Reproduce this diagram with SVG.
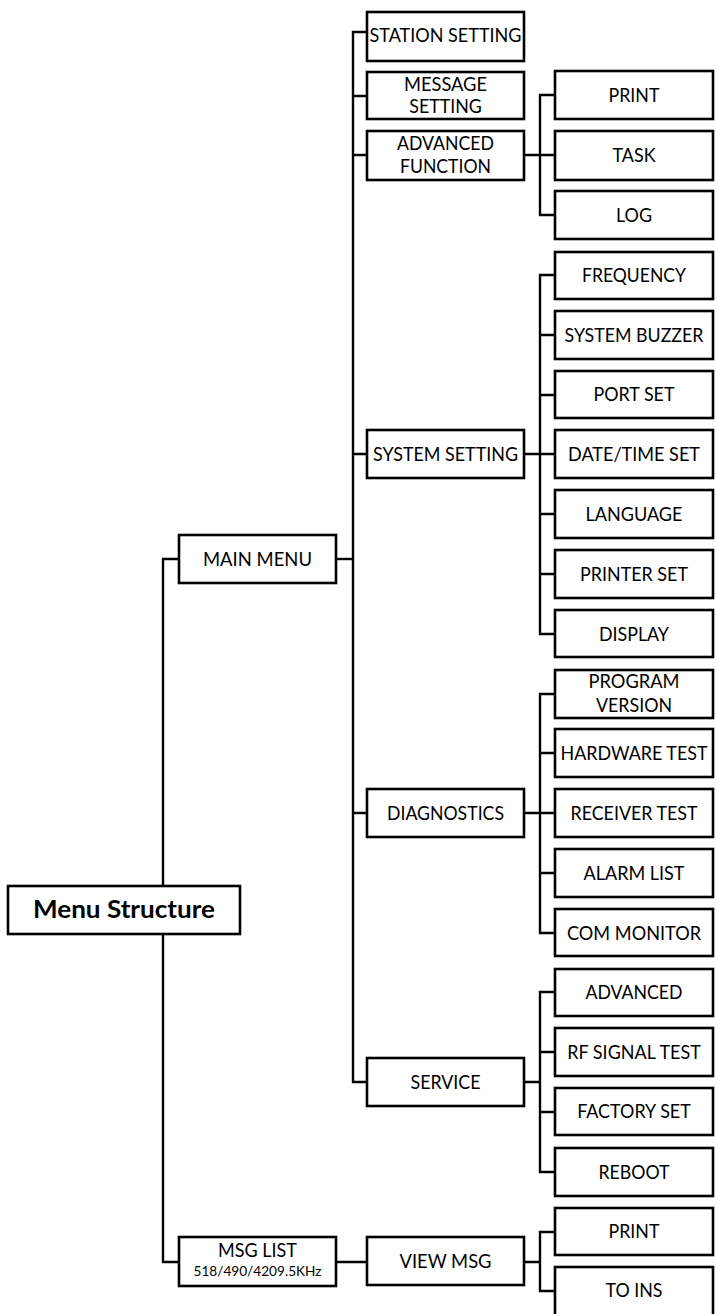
<svg xmlns="http://www.w3.org/2000/svg" width="717" height="1314" viewBox="0 0 717 1314">
  <style>
    .box { fill: #fff; stroke: #000; stroke-width: 2.6; }
    .wire { fill: none; stroke: #000; stroke-width: 2.4; stroke-linejoin: miter; }
    .lbl { font-family: Lato, "Liberation Sans", sans-serif; font-size: 19px; text-anchor: middle; fill: #000; }
    .title { font-family: Lato, "Liberation Sans", sans-serif; font-size: 25px; font-weight: bold; text-anchor: middle; fill: #000; }
    .small { font-family: Lato, "Liberation Sans", sans-serif; font-size: 13px; text-anchor: middle; fill: #000; }
  </style>
  <rect width="717" height="1314" fill="#fff"/>

  <!-- connectors -->
  <g id="connectors">
    <!-- root to main menu and msg list -->
    <path class="wire" d="M179 559 H163 V1262 H179"/>
    <!-- main menu trunk -->
    <path class="wire" d="M336 559 H353"/>
    <path class="wire" d="M367 32 H353 V1082 H367"/>
    <path class="wire" d="M353 96 H367 M353 155 H367 M353 454 H367 M353 813 H367"/>
    <!-- advanced function -->
    <path class="wire" d="M524 155 H555 M555 95 H540 V215 H555"/>
    <!-- system setting -->
    <path class="wire" d="M524 454 H555 M555 275 H540 V634 H555 M540 335 H555 M540 395 H555 M540 514 H555 M540 574 H555"/>
    <!-- diagnostics -->
    <path class="wire" d="M524 813 H555 M555 694 H540 V933 H555 M540 753 H555 M540 873 H555"/>
    <!-- service -->
    <path class="wire" d="M524 1082 H540 M555 992 H540 V1172 H555 M540 1052 H555 M540 1112 H555"/>
    <!-- msg list / view msg -->
    <path class="wire" d="M336 1262 H367 M524 1262 H540 M555 1232 H540 V1291 H555"/>
  </g>

  <!-- root -->
  <g id="menu-structure">
    <rect class="box" x="8" y="886" width="232" height="48"/>
    <text class="title" x="124" y="918" textLength="182" lengthAdjust="spacingAndGlyphs">Menu Structure</text>
  </g>

  <!-- level 1 -->
  <g id="main-menu">
    <rect class="box" x="179" y="535" width="157" height="48"/>
    <text class="lbl" x="257.5" y="566" textLength="109" lengthAdjust="spacingAndGlyphs">MAIN MENU</text>
  </g>
  <g id="msg-list">
    <rect class="box" x="179" y="1237" width="157" height="49"/>
    <text class="lbl" x="257.5" y="1257" textLength="79" lengthAdjust="spacingAndGlyphs">MSG LIST</text>
    <text class="small" x="257.5" y="1276" textLength="128" lengthAdjust="spacingAndGlyphs">518/490/4209.5KHz</text>
  </g>

  <!-- level 2 -->
  <g id="station-setting">
    <rect class="box" x="367" y="12" width="157" height="49"/>
    <text class="lbl" x="445.5" y="42" textLength="152" lengthAdjust="spacingAndGlyphs">STATION SETTING</text>
  </g>
  <g id="message-setting">
    <rect class="box" x="367" y="72" width="157" height="47"/>
    <text class="lbl" x="445.5" y="91" textLength="83" lengthAdjust="spacingAndGlyphs">MESSAGE</text>
    <text class="lbl" x="445.5" y="113" textLength="72.5" lengthAdjust="spacingAndGlyphs">SETTING</text>
  </g>
  <g id="advanced-function">
    <rect class="box" x="367" y="131" width="157" height="49"/>
    <text class="lbl" x="445.5" y="150" textLength="97" lengthAdjust="spacingAndGlyphs">ADVANCED</text>
    <text class="lbl" x="445.5" y="173" textLength="91" lengthAdjust="spacingAndGlyphs">FUNCTION</text>
  </g>
  <g id="system-setting">
    <rect class="box" x="367" y="430" width="157" height="48"/>
    <text class="lbl" x="445.5" y="461" textLength="145" lengthAdjust="spacingAndGlyphs">SYSTEM SETTING</text>
  </g>
  <g id="diagnostics">
    <rect class="box" x="367" y="789" width="157" height="48"/>
    <text class="lbl" x="445.5" y="820" textLength="117" lengthAdjust="spacingAndGlyphs">DIAGNOSTICS</text>
  </g>
  <g id="service">
    <rect class="box" x="367" y="1058" width="157" height="48"/>
    <text class="lbl" x="445.5" y="1089" textLength="70" lengthAdjust="spacingAndGlyphs">SERVICE</text>
  </g>
  <g id="view-msg">
    <rect class="box" x="367" y="1237" width="157" height="48"/>
    <text class="lbl" x="445.5" y="1268" textLength="92" lengthAdjust="spacingAndGlyphs">VIEW MSG</text>
  </g>

  <!-- level 3: advanced function -->
  <g id="af-print">
    <rect class="box" x="555" y="71" width="158" height="48"/>
    <text class="lbl" x="634" y="102" textLength="51" lengthAdjust="spacingAndGlyphs">PRINT</text>
  </g>
  <g id="af-task">
    <rect class="box" x="555" y="131" width="158" height="49"/>
    <text class="lbl" x="634" y="162" textLength="43" lengthAdjust="spacingAndGlyphs">TASK</text>
  </g>
  <g id="af-log">
    <rect class="box" x="555" y="191" width="158" height="48"/>
    <text class="lbl" x="634" y="222" textLength="36" lengthAdjust="spacingAndGlyphs">LOG</text>
  </g>

  <!-- level 3: system setting -->
  <g id="ss-frequency">
    <rect class="box" x="555" y="252" width="158" height="47"/>
    <text class="lbl" x="634" y="282" textLength="104" lengthAdjust="spacingAndGlyphs">FREQUENCY</text>
  </g>
  <g id="ss-buzzer">
    <rect class="box" x="555" y="311" width="158" height="48"/>
    <text class="lbl" x="634" y="342" textLength="139" lengthAdjust="spacingAndGlyphs">SYSTEM BUZZER</text>
  </g>
  <g id="ss-port">
    <rect class="box" x="555" y="371" width="158" height="47"/>
    <text class="lbl" x="634" y="401" textLength="81" lengthAdjust="spacingAndGlyphs">PORT SET</text>
  </g>
  <g id="ss-datetime">
    <rect class="box" x="555" y="430" width="158" height="48"/>
    <text class="lbl" x="634" y="461" textLength="132" lengthAdjust="spacingAndGlyphs">DATE/TIME SET</text>
  </g>
  <g id="ss-language">
    <rect class="box" x="555" y="490" width="158" height="48"/>
    <text class="lbl" x="634" y="521" textLength="97" lengthAdjust="spacingAndGlyphs">LANGUAGE</text>
  </g>
  <g id="ss-printer">
    <rect class="box" x="555" y="550" width="158" height="48"/>
    <text class="lbl" x="634" y="581" textLength="108" lengthAdjust="spacingAndGlyphs">PRINTER SET</text>
  </g>
  <g id="ss-display">
    <rect class="box" x="555" y="610" width="158" height="47"/>
    <text class="lbl" x="634" y="641" textLength="70" lengthAdjust="spacingAndGlyphs">DISPLAY</text>
  </g>

  <!-- level 3: diagnostics -->
  <g id="dg-version">
    <rect class="box" x="555" y="670" width="158" height="48"/>
    <text class="lbl" x="634" y="688" textLength="91" lengthAdjust="spacingAndGlyphs">PROGRAM</text>
    <text class="lbl" x="634" y="712" textLength="76" lengthAdjust="spacingAndGlyphs">VERSION</text>
  </g>
  <g id="dg-hardware">
    <rect class="box" x="555" y="729" width="158" height="48"/>
    <text class="lbl" x="634" y="760" textLength="147" lengthAdjust="spacingAndGlyphs">HARDWARE TEST</text>
  </g>
  <g id="dg-receiver">
    <rect class="box" x="555" y="789" width="158" height="48"/>
    <text class="lbl" x="634" y="820" textLength="127" lengthAdjust="spacingAndGlyphs">RECEIVER TEST</text>
  </g>
  <g id="dg-alarm">
    <rect class="box" x="555" y="849" width="158" height="48"/>
    <text class="lbl" x="634" y="880" textLength="101" lengthAdjust="spacingAndGlyphs">ALARM LIST</text>
  </g>
  <g id="dg-com">
    <rect class="box" x="555" y="909" width="158" height="47"/>
    <text class="lbl" x="634" y="940" textLength="134" lengthAdjust="spacingAndGlyphs">COM MONITOR</text>
  </g>

  <!-- level 3: service -->
  <g id="sv-advanced">
    <rect class="box" x="555" y="969" width="158" height="47"/>
    <text class="lbl" x="634" y="999" textLength="97" lengthAdjust="spacingAndGlyphs">ADVANCED</text>
  </g>
  <g id="sv-rf">
    <rect class="box" x="555" y="1028" width="158" height="48"/>
    <text class="lbl" x="634" y="1059" textLength="133.5" lengthAdjust="spacingAndGlyphs">RF SIGNAL TEST</text>
  </g>
  <g id="sv-factory">
    <rect class="box" x="555" y="1088" width="158" height="47"/>
    <text class="lbl" x="634" y="1118" textLength="113.5" lengthAdjust="spacingAndGlyphs">FACTORY SET</text>
  </g>
  <g id="sv-reboot">
    <rect class="box" x="555" y="1148" width="158" height="48"/>
    <text class="lbl" x="634" y="1179" textLength="71" lengthAdjust="spacingAndGlyphs">REBOOT</text>
  </g>

  <!-- level 3: view msg -->
  <g id="vm-print">
    <rect class="box" x="555" y="1208" width="158" height="47"/>
    <text class="lbl" x="634" y="1238" textLength="51" lengthAdjust="spacingAndGlyphs">PRINT</text>
  </g>
  <g id="vm-toins">
    <rect class="box" x="555" y="1267" width="158" height="49"/>
    <text class="lbl" x="634" y="1297" textLength="57" lengthAdjust="spacingAndGlyphs">TO INS</text>
  </g>
</svg>
